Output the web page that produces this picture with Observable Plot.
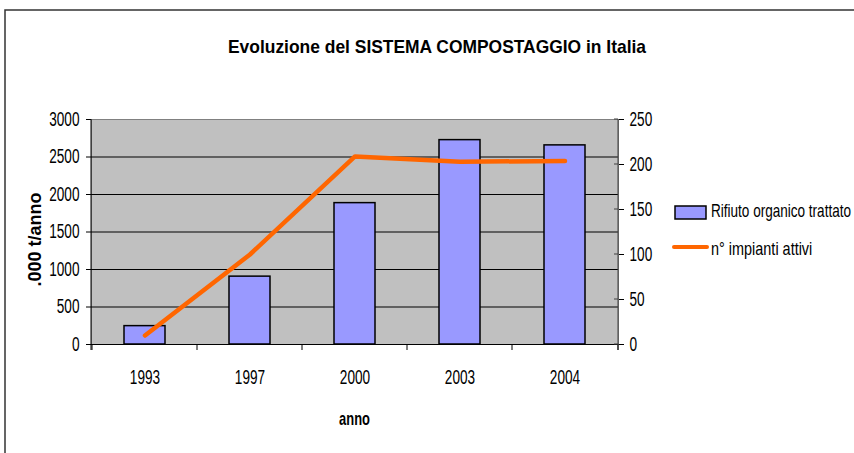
<!DOCTYPE html>
<html><head><meta charset="utf-8">
<script src="https://cdn.jsdelivr.net/npm/d3@7"></script>
<script src="https://cdn.jsdelivr.net/npm/@observablehq/plot@0.6"></script>
<style>body{margin:0;background:#fff} svg{display:block}</style>
</head><body><div id="chart"></div>
<script>
const years = ["1993", "1997", "2000", "2003", "2004"];
const rifiuto = [245, 905, 1885, 2725, 2655];
const impianti = [10, 100, 209, 203, 204];
const leftTicks = [0, 500, 1000, 1500, 2000, 2500, 3000];
const rightTicks = [0, 50, 100, 150, 200, 250];
const gridTicks = [0, 500, 1000, 1500, 2000, 2500];
const titleText = "Evoluzione del SISTEMA COMPOSTAGGIO in Italia";
const xLabel = "anno";
const yLabel = ".000 t/anno";
const seriesNames = ["Rifiuto organico trattato", "n° impianti attivi"];

const FONT = '"Liberation Sans", Arial, sans-serif';
const leftMax = 3000, rightMax = 250, k = leftMax / rightMax;
const data = years.map((y, i) => ({anno: y, rifiuto: rifiuto[i], impianti: impianti[i]}));

const chart = Plot.plot({
  width: 854, height: 453,
  marginLeft: 91, marginRight: 236, marginTop: 119, marginBottom: 109,
  style: {fontFamily: FONT, fontSize: "20px", color: "#000", background: "#fff", overflow: "visible"},
  x: {domain: years, padding: 0, label: null},
  y: {domain: [0, leftMax], label: null},
  marks: [
    Plot.frame({fill: "#C0C0C0", stroke: "#808080"}),
    Plot.ruleY(gridTicks, {stroke: "#000", strokeWidth: 1}),
    Plot.barY(data, {x: "anno", y: "rifiuto", fill: "#9999FF", stroke: "#000", strokeWidth: 1.5, insetLeft: 32, insetRight: 32}),
    Plot.line(data, {x: "anno", y: d => d.impianti * k, stroke: "#FF6600", strokeWidth: 4.5, strokeLinecap: "round", strokeLinejoin: "round"}),
    Plot.axisY(leftTicks, {anchor: "left", tickSize: 5, tickPadding: 7, label: null, fontSize: 20, tickFormat: d => String(d)}),
    Plot.axisY(rightTicks.map(v => v * k), {anchor: "right", tickSize: 5, tickPadding: 6, tickFormat: v => String(v / k), label: null, fontSize: 20}),
    Plot.axisX({tickSize: 0, tickPadding: 25, label: null, fontSize: 20})
  ]
});
document.getElementById("chart").appendChild(chart);

const svg = d3.select(chart);
const xs = chart.scale("x"), ys = chart.scale("y");
const xL = xs.range[0], xR = xs.range[1];
const yB = ys.apply(0), yT = ys.apply(leftMax);

// condense axis tick texts horizontally
function condense(sel, factor) {
  sel.each(function() {
    const len = this.getComputedTextLength();
    if (len > 0) {
      this.setAttribute("textLength", (len * factor).toFixed(1));
      this.setAttribute("lengthAdjust", "spacingAndGlyphs");
    }
  });
}
condense(svg.selectAll("text"), 0.68);

// axis lines and category boundary ticks
const g = svg.append("g");
g.append("line").attr("x1", xL).attr("x2", xL).attr("y1", yT).attr("y2", yB + 6).attr("stroke", "#000");
g.append("line").attr("x1", xR).attr("x2", xR).attr("y1", yT).attr("y2", yB + 6).attr("stroke", "#404040");
const bounds = years.map(y => xs.apply(y)).concat([xR]);
g.selectAll("line.b").data(bounds).join("line").attr("class", "b")
  .attr("x1", d => d).attr("x2", d => d).attr("y1", yB).attr("y2", yB + 6).attr("stroke", "#000");
g.selectAll("line.r").data(rightTicks).join("line").attr("class", "r")
  .attr("x1", xR - 4).attr("x2", xR).attr("y1", d => ys.apply(d * k)).attr("y2", d => ys.apply(d * k)).attr("stroke", "#404040");

// outer frame
svg.append("rect").attr("x", 5).attr("y", 10).attr("width", 900).attr("height", 500)
  .attr("fill", "none").attr("stroke", "#333").attr("stroke-width", 1.5);

function addText(parent, x, y, str, opts) {
  const t = parent.append("text").attr("x", x).attr("y", y)
    .attr("text-anchor", opts.anchor || "start")
    .attr("font-family", FONT).attr("font-size", opts.size || 20)
    .attr("font-weight", opts.bold ? "bold" : "normal").text(str);
  if (opts.transform) t.attr("transform", opts.transform);
  const node = t.node();
  const len = opts.length || node.getComputedTextLength() * (opts.factor || 0.68);
  node.setAttribute("textLength", len.toFixed(1));
  node.setAttribute("lengthAdjust", "spacingAndGlyphs");
  return t;
}

// title
addText(svg, 437, 52.5, titleText, {anchor: "middle", bold: true, size: 19, length: 418});
// axis labels
addText(svg, (xL + xR) / 2, 425, xLabel, {anchor: "middle", bold: true, size: 19});
addText(svg, 0, 0, yLabel, {anchor: "middle", bold: true, size: 19, length: 94,
  transform: `translate(41,${(yT + yB) / 2 + 8}) rotate(-90)`});

// legend
const lg = svg.append("g");
lg.append("rect").attr("x", 675).attr("y", 206).attr("width", 31).attr("height", 13)
  .attr("fill", "#9999FF").attr("stroke", "#000").attr("stroke-width", 1.5);
addText(lg, 711, 217, seriesNames[0], {size: 19, length: 140});
lg.append("line").attr("x1", 674).attr("x2", 707).attr("y1", 247).attr("y2", 247)
  .attr("stroke", "#FF6600").attr("stroke-width", 4).attr("stroke-linecap", "round");
addText(lg, 711, 255, seriesNames[1], {size: 19, factor: 0.76});
</script>
</body></html>
